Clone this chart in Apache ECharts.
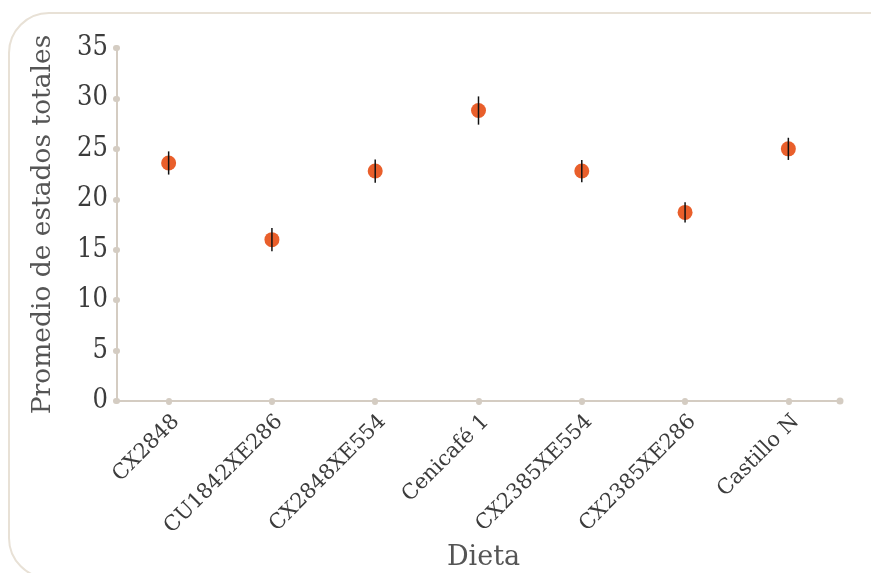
<!DOCTYPE html>
<html><head><meta charset="utf-8">
<script src="https://cdn.jsdelivr.net/npm/echarts@6/dist/echarts.min.js"></script>
<style>html,body{margin:0;padding:0;background:#fff}#c{width:871px;height:573px}</style>
</head><body><div id="c"></div>
<script>
var categories = ['CX2848','CU1842XE286','CX2848XE554','Cenicafé 1','CX2385XE554','CX2385XE286','Castillo N'];
var means = [23.6, 16.0, 22.8, 28.8, 22.8, 18.7, 25.0];
var errors = [1.15, 1.15, 1.15, 1.4, 1.1, 1.0, 1.1];
var yTicks = [0, 5, 10, 15, 20, 25, 30, 35];

var FONT = '"DejaVu Serif",serif';
var FONTC = '"DejaVu Serif Condensed","DejaVu Serif",serif';
var AXIS = '#D4CCC2';
var chart = echarts.init(document.getElementById('c'), null, {renderer:'canvas'});
var errData = categories.map(function(c,i){ return [i, means[i]-errors[i], means[i]+errors[i]]; });
chart.setOption({
  animation:false,
  graphic:[{type:'rect', shape:{x:9, y:13, width:900, height:565, r:40}, style:{fill:'none', stroke:'#E8E1D6', lineWidth:2}, z:-1}],
  grid:{left:117, right:31, top:48, bottom:172, containLabel:false, outerBoundsMode:'none'},
  xAxis:{type:'category', data:categories, boundaryGap:true,
    name:'Dieta', nameLocation:'middle', nameGap:138,
    nameTextStyle:{fontFamily:FONT, fontSize:27, color:'#555', padding:[0,0,0,10]},
    axisLine:{show:true, symbol:['none','circle'], symbolSize:[7,7], lineStyle:{color:AXIS, width:2}},
    axisTick:{show:true, alignWithLabel:true, length:1, lineStyle:{color:AXIS, width:6, cap:'round'}},
    axisLabel:{rotate:45, margin:10, verticalAlign:'top', fontFamily:FONT, fontSize:21, color:'#3c3c3c'},
    splitLine:{show:false}},
  yAxis:{type:'value', min:yTicks[0], max:yTicks[yTicks.length-1], interval:5,
    name:'Promedio de estados totales', nameLocation:'middle', nameGap:60,
    nameTextStyle:{fontFamily:FONT, fontSize:26.5, color:'#555'},
    axisLine:{show:true, lineStyle:{color:AXIS, width:2}},
    axisTick:{show:true, length:1, lineStyle:{color:AXIS, width:6, cap:'round'}},
    axisLabel:{margin:9, fontFamily:FONTC, fontSize:27, color:'#3c3c3c'},
    splitLine:{show:false}},
  series:[
    {type:'scatter', data:means, symbol:'circle', symbolSize:15, itemStyle:{color:'#E95F2B', opacity:1}, z:2},
    {type:'custom', data:errData, z:3,
      renderItem:function(params, api){
        var x = api.value(0);
        var lo = api.coord([x, api.value(1)]);
        var hi = api.coord([x, api.value(2)]);
        return {type:'line', shape:{x1:lo[0], y1:lo[1], x2:hi[0], y2:hi[1]}, style:{stroke:'#111', lineWidth:1.5}};
      }}
  ]
});
</script></body></html>
